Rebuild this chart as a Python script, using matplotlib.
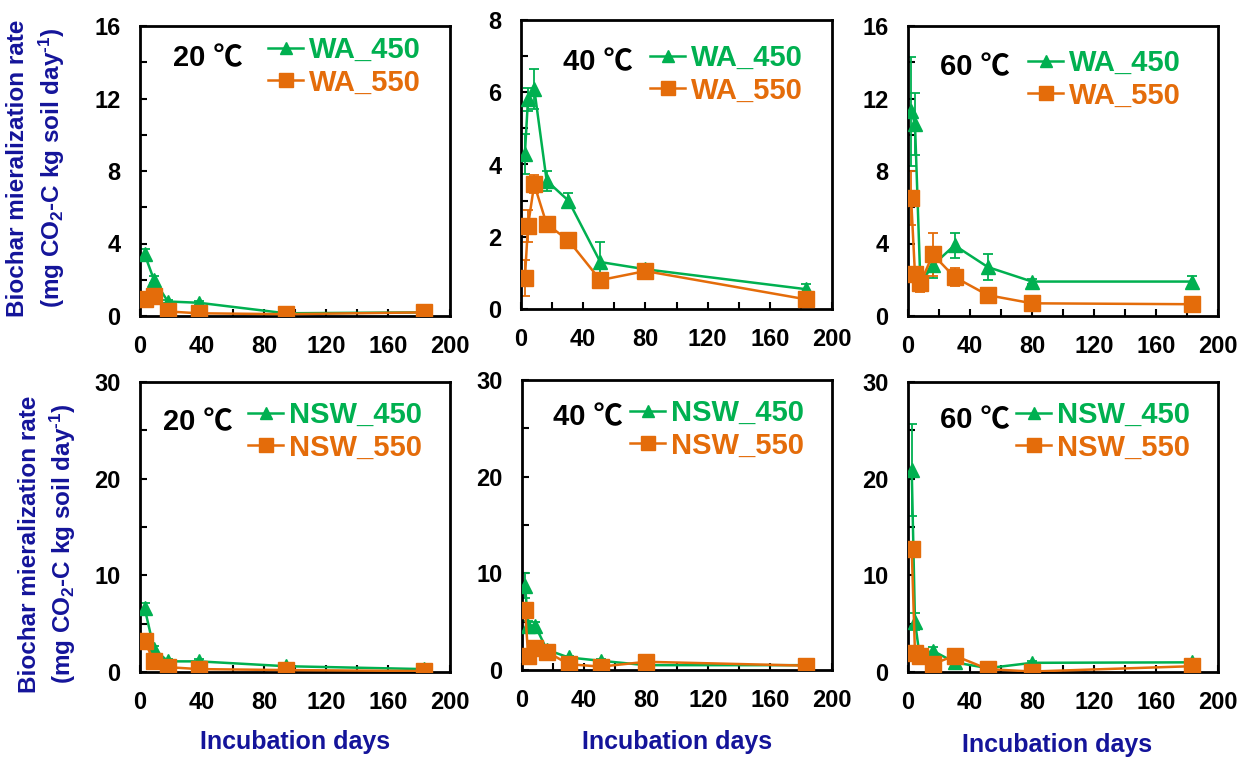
import matplotlib
matplotlib.use("Agg")
import matplotlib.pyplot as plt
from matplotlib.ticker import MultipleLocator

plt.rcParams["font.family"] = ["Liberation Sans", "DejaVu Sans"]
plt.rcParams["font.weight"] = "bold"
plt.rcParams["mathtext.default"] = "regular"

GREEN = "#00B050"
ORANGE = "#E46C0A"
BLUE = "#14149A"

# ---- data ----
# WA biochar
days_wa20 = [3, 9, 18, 38, 94, 183]
wa450_20 = [3.4, 2.0, 0.8, 0.73, 0.15, 0.2]
wa450_20_err = [0.3, 0.2, 0.1, 0.1, 0.05, 0.05]
wa550_20 = [0.95, 1.1, 0.25, 0.15, 0.1, 0.2]
wa550_20_err = [0.15, 0.15, 0.05, 0.05, 0.05, 0.05]

days_wa40 = [2.5, 4.5, 8.5, 16.5, 30.5, 51, 80, 183]
wa450_40 = [4.3, 5.8, 6.1, 3.55, 3.0, 1.3, 1.1, 0.55]
wa450_40_err = [0.55, 0.32, 0.55, 0.27, 0.2, 0.55, 0.1, 0.15]
wa550_40 = [0.85, 2.3, 3.45, 2.35, 1.9, 0.8, 1.05, 0.27]
wa550_40_err = [0.5, 0.45, 0.25, 0.1, 0.1, 0.1, 0.1, 0.1]

days_wa60 = [2, 4.5, 8, 16, 30, 51.5, 80, 183]
wa450_60 = [11.3, 10.6, 1.8, 2.8, 3.9, 2.7, 1.9, 1.9]
wa450_60_err = [3.0, 1.7, 0.3, 0.7, 0.7, 0.7, 0.15, 0.3]
wa550_60 = [6.5, 2.3, 1.8, 3.4, 2.15, 1.15, 0.7, 0.65]
wa550_60_err = [1.5, 0.3, 0.5, 1.2, 0.5, 0.1, 0.1, 0.1]

# NSW biochar
days_nsw20 = [3, 9, 18, 38, 94, 183]
nsw450_20 = [6.6, 2.4, 1.1, 1.1, 0.6, 0.3]
nsw450_20_err = [0.5, 0.3, 0.2, 0.2, 0.1, 0.1]
nsw550_20 = [3.2, 1.1, 0.5, 0.3, 0.2, 0.1]
nsw550_20_err = [0.3, 0.2, 0.1, 0.1, 0.1, 0.1]

days_nsw40 = [2, 4, 8.5, 16, 30, 51, 80, 183]
nsw450_40 = [8.7, 4.6, 4.6, 2.1, 1.3, 0.95, 0.5, 0.5]
nsw450_40_err = [1.3, 0.5, 0.4, 0.2, 0.2, 0.2, 0.3, 0.1]
nsw550_40 = [6.2, 1.4, 2.3, 1.9, 0.6, 0.35, 0.85, 0.45]
nsw550_40_err = [0.4, 0.3, 0.2, 0.2, 0.1, 0.1, 0.1, 0.1]

days_nsw60 = [2.4, 4.5, 7.5, 16, 30, 51.5, 80, 183]
nsw450_60 = [20.9, 5.2, 1.7, 2.2, 1.0, 0.4, 0.95, 1.0]
nsw450_60_err = [4.8, 0.9, 0.3, 0.4, 0.3, 0.2, 0.2, 0.2]
nsw550_60 = [12.7, 2.0, 1.7, 0.8, 1.7, 0.3, 0.05, 0.6]
nsw550_60_err = [0.4, 0.3, 0.2, 0.2, 0.2, 0.1, 0.1, 0.1]

temps = ["20 \u2103", "40 \u2103", "60 \u2103"]

W, H = 1248, 758
fig = plt.figure(figsize=(W / 100, H / 100), dpi=100)


def fx(x):
    return x / W


def fy(y):
    return 1 - y / H


def add_panel(box, ymax, ymajor, yminor):
    l, t, r, b = box
    ax = fig.add_axes([fx(l), fy(b), (r - l) / W, (b - t) / H])
    ax.set_xlim(0, 200)
    ax.set_ylim(0, ymax)
    ax.xaxis.set_major_locator(MultipleLocator(40))
    ax.xaxis.set_minor_locator(MultipleLocator(20))
    ax.yaxis.set_major_locator(MultipleLocator(ymajor))
    ax.yaxis.set_minor_locator(MultipleLocator(yminor))
    ax.tick_params(which="both", direction="in", length=5, width=1.5,
                   labelsize=17)
    ax.tick_params(axis="y", which="both", pad=14)
    ax.tick_params(axis="x", which="both", pad=14)
    for s in ax.spines.values():
        s.set_linewidth(2)
    return ax


def draw_series(ax, days, vals, errs, color, marker, ms, label):
    ax.errorbar(days, vals, yerr=errs, fmt="none", ecolor=color,
                elinewidth=1.3, capsize=3.5, capthick=1.3, zorder=2)
    ax.plot(days, vals, color=color, lw=1.8, marker=marker, ms=ms,
            label=label, zorder=3)


panels = [
    ((140, 26, 450, 316), 16, 4, 2, "WA",
     (days_wa20, wa450_20, wa450_20_err, wa550_20, wa550_20_err),
     (173, 58), (268, 36)),
    ((521, 20, 832, 309), 8, 2, 1, "WA",
     (days_wa40, wa450_40, wa450_40_err, wa550_40, wa550_40_err),
     (563, 62), (650, 44)),
    ((908, 26, 1218, 316), 16, 4, 2, "WA",
     (days_wa60, wa450_60, wa450_60_err, wa550_60, wa550_60_err),
     (940, 67), (1028, 49)),
    ((140, 382, 450, 672), 30, 10, 5, "NSW",
     (days_nsw20, nsw450_20, nsw450_20_err, nsw550_20, nsw550_20_err),
     (163, 422), (248, 401)),
    ((522, 380, 832, 670), 30, 10, 5, "NSW",
     (days_nsw40, nsw450_40, nsw450_40_err, nsw550_40, nsw550_40_err),
     (553, 417), (630, 399)),
    ((908, 382, 1218, 672), 30, 10, 5, "NSW",
     (days_nsw60, nsw450_60, nsw450_60_err, nsw550_60, nsw550_60_err),
     (940, 420), (1016, 401)),
]

for i, (box, ymax, ymaj, ymin, name, data, tpos, lpos) in enumerate(panels):
    ax = add_panel(box, ymax, ymaj, ymin)
    days, a, ae, c, ce = data
    draw_series(ax, days, a, ae, GREEN, "^", 10, f"{name}_450")
    draw_series(ax, days, c, ce, ORANGE, "s", 11, f"{name}_550")
    fig.text(fx(tpos[0]), fy(tpos[1]), temps[i % 3], fontsize=21,
             ha="left", va="center", color="black",
             family=["Liberation Sans", "Noto Sans CJK SC", "DejaVu Sans"])
    leg = ax.legend(loc="upper left", bbox_to_anchor=(fx(lpos[0]), fy(lpos[1])),
                    bbox_transform=fig.transFigure, frameon=False,
                    fontsize=21, handlelength=1.2, handletextpad=0.2,
                    labelspacing=0.15, borderpad=0, borderaxespad=0,
                    markerscale=0.9)
    for txt, col in zip(leg.get_texts(), [GREEN, ORANGE]):
        txt.set_color(col)

# y-axis labels
line1 = "Biochar mieralization rate"
line2 = "(mg CO$_2$-C kg soil day$^{\u2010 1}$)"
for (x1, x2, yc) in [(18, 52, 168), (30, 63, 544)]:
    fig.text(fx(x1), fy(yc), line1, rotation=90, ha="center", va="center",
             fontsize=17.5, color=BLUE)
    fig.text(fx(x2), fy(yc), line2, rotation=90, ha="center", va="center",
             fontsize=17.5, color=BLUE)

# x-axis labels
for (xc, yc) in [(295, 742), (677, 742), (1057, 745)]:
    fig.text(fx(xc), fy(yc), "Incubation days", ha="center", va="center",
             fontsize=18, color=BLUE)

fig.savefig("out.png", dpi=100)
